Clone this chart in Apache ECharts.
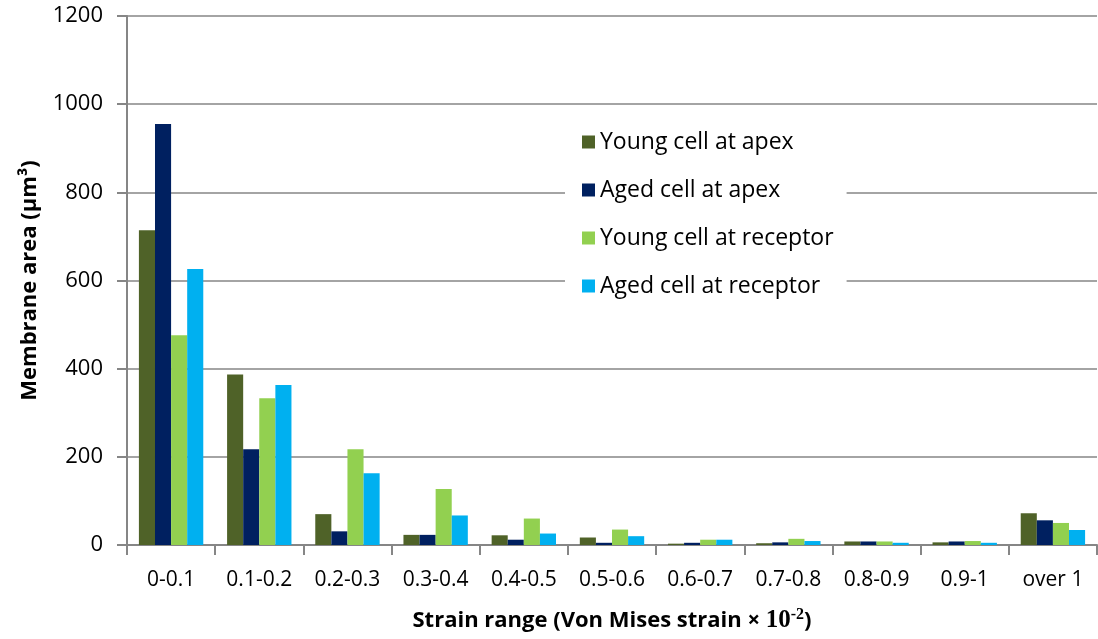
<!DOCTYPE html>
<html><head><meta charset="utf-8">
<script src="https://cdn.jsdelivr.net/npm/echarts@6/dist/echarts.min.js"></script>
<style>html,body{margin:0;padding:0;background:#fff}#c{width:1098px;height:639px}</style>
</head><body><div id="c"></div>
<script>
var categories = ['0-0.1','0.1-0.2','0.2-0.3','0.3-0.4','0.4-0.5','0.5-0.6','0.6-0.7','0.7-0.8','0.8-0.9','0.9-1','over 1'];
var youngApex    = [714, 387, 70, 23, 22, 17, 3, 4, 8, 6, 72];
var agedApex     = [955, 217, 31, 23, 12, 5, 5, 6, 8, 8, 56];
var youngReceptor= [476, 333, 217, 127, 60, 35, 12, 14, 8, 9, 50];
var agedReceptor = [626, 363, 163, 67, 26, 20, 12, 9, 5, 5, 34];
var seriesNames = ['Young cell at apex','Aged cell at apex','Young cell at receptor','Aged cell at receptor'];
var colors = ['#4F6228','#002060','#92D050','#00B0F0'];
var yTicks = [0,200,400,600,800,1000,1200];

var chart = echarts.init(document.getElementById('c'));
var font = '"Open Sans", "Liberation Sans", sans-serif';
var data = [youngApex, agedApex, youngReceptor, agedReceptor];
chart.setOption({
  animation:false,
  textStyle:{fontFamily:font},
  grid:{left:127,right:1,top:16,bottom:94,containLabel:false,outerBoundsMode:'none'},
  legend:{
    orient:'vertical', left:565, top:122,
    backgroundColor:'#fff', padding:[8,13,8,17],
    itemWidth:13, itemHeight:13, itemGap:24,
    icon:'rect',
    textStyle:{fontSize:23, lineHeight:24, color:'#000', fontFamily:font, padding:[0,0,0,0]},
    data: seriesNames
  },
  xAxis:{
    type:'category', data:categories,
    axisLine:{lineStyle:{color:'#868686',width:2}},
    axisTick:{show:true,length:10,interval:0,lineStyle:{color:'#868686',width:2}},
    axisLabel:{fontSize:21,color:'#000',margin:25,fontFamily:font,interval:0,hideOverlap:false},
    name:'{a|Strain range (Von Mises strain × }{b|10}{c|-2}{a|)}',
    nameLocation:'middle', nameGap:62,
    nameTextStyle:{rich:{
      a:{fontSize:22,fontWeight:'bold',color:'#000',fontFamily:font},
      b:{fontSize:25,fontWeight:'bold',color:'#000',fontFamily:'"Liberation Serif", serif'},
      c:{fontSize:16,fontWeight:'bold',color:'#000',fontFamily:'"Liberation Serif", serif',verticalAlign:'top',padding:[0,0,12,0]}
    }}
  },
  yAxis:{
    type:'value', min:0, max:1200, interval:200,
    axisLine:{show:true,lineStyle:{color:'#868686',width:2}},
    axisTick:{show:true,length:10,lineStyle:{color:'#868686',width:2}},
    splitLine:{lineStyle:{color:'#868686',width:1.5}},
    axisLabel:{fontSize:22,color:'#000',margin:24,fontFamily:font,
      formatter:function(v){return yTicks.indexOf(v)>=0?String(v):'';}},
    name:'Membrane area (μm³)', nameLocation:'middle', nameGap:86,
    nameTextStyle:{fontSize:22,fontWeight:'bold',color:'#000',fontFamily:font}
  },
  series: seriesNames.map(function(n,i){
    return {name:n,type:'bar',data:data[i],barGap:'0%',barCategoryGap:'27%',
      itemStyle:{color:colors[i]}};
  })
});
</script></body></html>
